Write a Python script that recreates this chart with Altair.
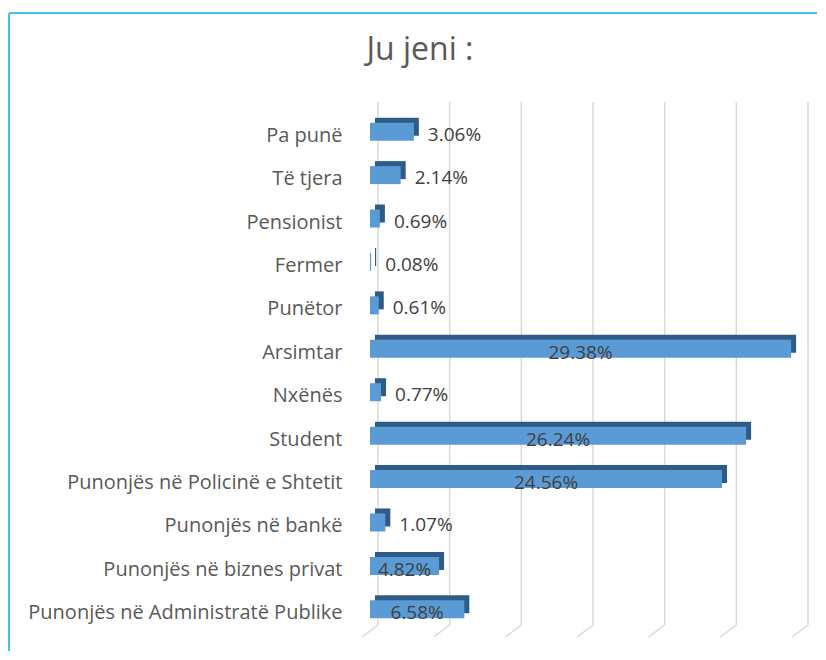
import altair as alt
import pandas as pd

categories = ["Pa punë", "Të tjera", "Pensionist", "Fermer", "Punëtor", "Arsimtar",
              "Nxënës", "Student", "Punonjës në Policinë e Shtetit", "Punonjës në bankë",
              "Punonjës në biznes privat", "Punonjës në Administratë Publike"]
values = [3.06, 2.14, 0.69, 0.08, 0.61, 29.38, 0.77, 26.24, 24.56, 1.07, 4.82, 6.58]
grid_values = [0, 5, 10, 15, 20, 25, 30]
title_text = "Ju jeni :"

df = pd.DataFrame({"cat": categories, "v": values})
grid_df = pd.DataFrame({"g": grid_values})
one = pd.DataFrame({"o": [0]})

FONT = "Open Sans"
xscale = alt.Scale(domain=[0, 30], nice=False, zero=True)
y_enc = alt.Y("cat:N", sort=categories, title=None,
              scale=alt.Scale(paddingInner=0, paddingOuter=0),
              axis=alt.Axis(domain=False, ticks=False, grid=False, labelFontSize=20,
                            labelFont=FONT, labelColor="#595959", labelPadding=28,
                            labelOffset=4, labelLimit=400))

grid = alt.Chart(grid_df).mark_rule(color="#D9D9D9", strokeWidth=1.5, xOffset=8).encode(
    x=alt.X("g:Q", scale=xscale, axis=None), y=alt.value(-8), y2=alt.value(515))
slant = alt.Chart(grid_df).mark_rule(color="#D9D9D9", strokeWidth=1.5, xOffset=8, x2Offset=-8).encode(
    x=alt.X("g:Q", scale=xscale, axis=None), x2="g:Q", y=alt.value(515), y2=alt.value(527))

depth = alt.Chart(df).mark_bar(color="#2E5B87", size=18, xOffset=5, x2Offset=5,
                               yOffset=-5, y2Offset=-5).encode(
    x=alt.X("v:Q", scale=xscale, axis=None), y=y_enc)
front = alt.Chart(df).mark_bar(color="#5B9BD5", size=18).encode(
    x=alt.X("v:Q", scale=xscale, axis=None), y=y_enc)

big = alt.Chart(df).transform_filter("datum.v >= 4").transform_calculate(
    pos="datum.v / 2", lab="format(datum.v, '.2f') + '%'").mark_text(
    align="center", dy=4, fontSize=19, font=FONT, color="#404040").encode(
    x=alt.X("pos:Q", scale=xscale, axis=None), y=y_enc, text="lab:N")
small = alt.Chart(df).transform_filter("datum.v < 4").transform_calculate(
    lab="format(datum.v, '.2f') + '%'").mark_text(
    align="left", dx=14, dy=3, fontSize=19, font=FONT, color="#404040").encode(
    x=alt.X("v:Q", scale=xscale, axis=None), y=y_enc, text="lab:N")

frame_top = alt.Chart(one).mark_rule(color="#4BBEE3", strokeWidth=2).encode(
    x=alt.value(-361), x2=alt.value(447), y=alt.value(-97))
frame_left = alt.Chart(one).mark_rule(color="#4BBEE3", strokeWidth=2).encode(
    x=alt.value(-361), y=alt.value(-97), y2=alt.value(541))

title = alt.Chart(one).mark_text(text=title_text, fontSize=32, font=FONT, color="#595959",
                                 align="center", baseline="alphabetic").encode(
    x=alt.value(50), y=alt.value(-50))

chart = alt.layer(grid, slant, depth, front, big, small, frame_top, frame_left, title).properties(
    width=430, height=521,
    padding={"left": 0, "top": 4, "right": 0, "bottom": 0},
    background="white",
).configure_view(stroke=None)

chart.save("out.html", embed_options={"renderer": "svg", "actions": False})
